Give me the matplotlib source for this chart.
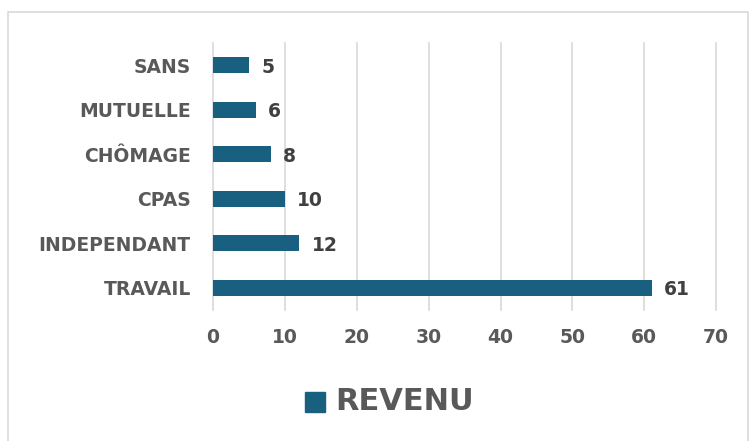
import matplotlib.pyplot as plt
from matplotlib.patches import Rectangle

categories = ['SANS', 'MUTUELLE', 'CHÔMAGE', 'CPAS', 'INDEPENDANT', 'TRAVAIL']
values = [5, 6, 8, 10, 12, 61]
series_name = 'REVENU'

bar_color = '#185F80'
label_gray = '#595959'
value_gray = '#404040'

plt.rcParams['font.family'] = ['DejaVu Sans']
plt.rcParams['font.weight'] = 'bold'

fig = plt.figure(figsize=(7.5, 4.41), dpi=100)
ax = fig.add_axes([0.284, 0.297, 0.671, 0.605])

# outer frame of the chart area
fig.patches.append(Rectangle((8 / 750, -0.01), 740 / 750, 1 - 12 / 441 + 0.01,
                             transform=fig.transFigure, fill=False,
                             edgecolor='#d9d9d9', linewidth=1.2))

pos = list(range(len(categories)))
ax.barh(pos, values, height=0.36, color=bar_color, zorder=3)
for p, v in zip(pos, values):
    ax.text(v + 1.7, p + 0.04, str(v), va='center', ha='left',
            fontsize=13.5, fontweight='bold', color=value_gray)

ax.set_xlim(0, 70)
ax.set_ylim(5.5, -0.5)
ax.set_xticks(range(0, 71, 10))
ax.set_yticks(pos)
ax.set_yticklabels(categories)
ax.tick_params(axis='both', length=0, labelcolor=label_gray)
ax.tick_params(axis='x', pad=13, labelsize=13.5)
ax.tick_params(axis='y', pad=16, labelsize=13.5)
for lab in ax.get_xticklabels() + ax.get_yticklabels():
    lab.set_fontweight('bold')

ax.grid(axis='x', color='#d9d9d9', linewidth=1.2)
for gl in ax.get_xgridlines():
    gl.set_clip_on(False)
ax.set_axisbelow(True)
for s in ax.spines.values():
    s.set_visible(False)

# legend
fig.patches.append(Rectangle((305 / 750, 1 - 412 / 441), 20 / 750, 20 / 441,
                             transform=fig.transFigure, color=bar_color))
fig.text(335 / 750, 1 - 401 / 441, series_name, fontsize=22, fontweight='bold',
         color=label_gray, va='center', ha='left')

fig.savefig('out.png', dpi=100)
